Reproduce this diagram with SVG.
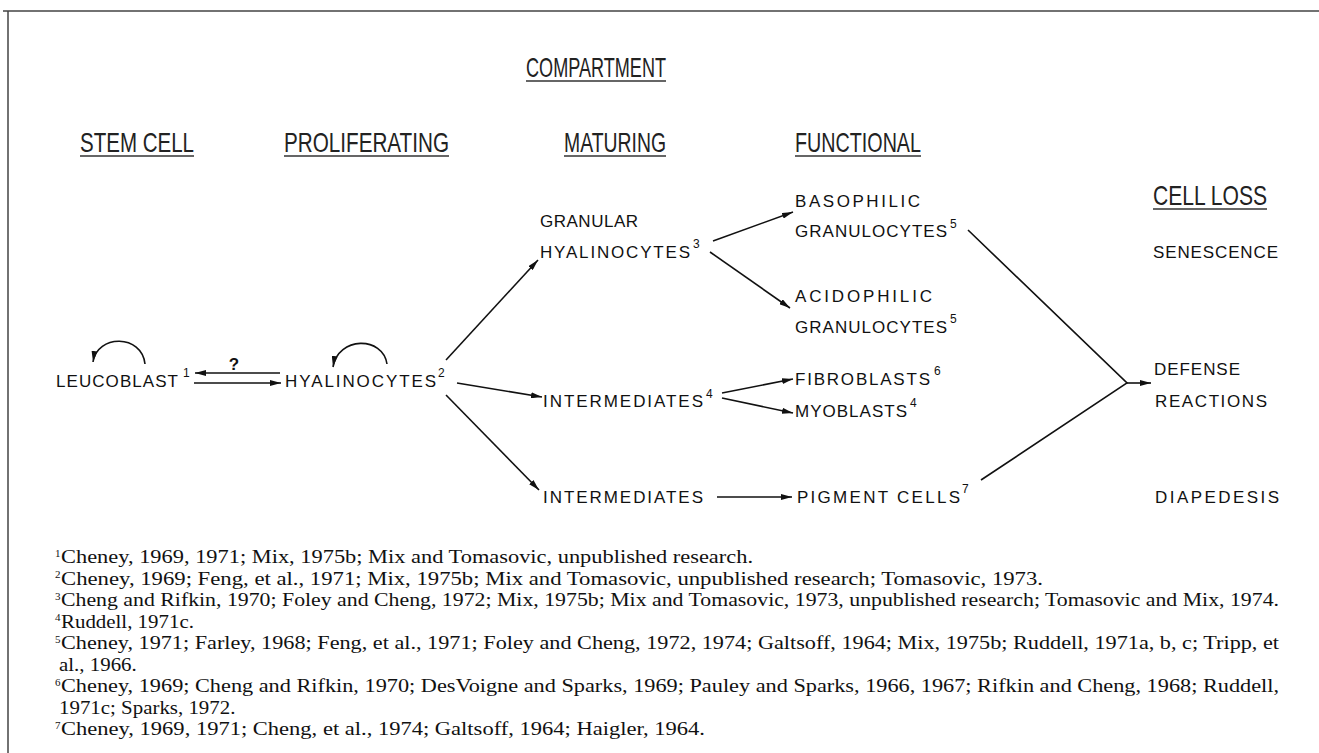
<svg xmlns="http://www.w3.org/2000/svg" width="1319" height="753" viewBox="0 0 1319 753">
<defs>
<marker id="ah" viewBox="0 0 11 6" refX="11" refY="3" markerWidth="11" markerHeight="6" markerUnits="userSpaceOnUse" orient="auto"><path d="M0,0 L11,3 L0,6 z" fill="#111"/></marker>
</defs>
<style>
.hd{font-family:"Liberation Sans",Arial,sans-serif;font-size:28px;fill:#222}
.lb{font-family:"Liberation Sans",Arial,sans-serif;font-size:17px;fill:#111}
.sp{font-family:"Liberation Sans",Arial,sans-serif;font-size:12px;fill:#111}
.fn{font-family:"Liberation Serif","Times New Roman",serif;font-size:19px;fill:#111}
.fs{font-family:"Liberation Serif","Times New Roman",serif;font-size:11px;fill:#111}
.ul{stroke:#333;stroke-width:1.5}
.c{stroke:#111;stroke-width:1.6;fill:none}
.a{marker-end:url(#ah)}
.q{font-family:"Liberation Sans",Arial,sans-serif;font-size:17px;font-weight:bold;fill:#111}
</style>
<g id="frame"><path d="M3,11 H1319 M8,11 V753" stroke="#444" stroke-width="1.5" fill="none"/></g>

<g id="headers">
<g id="h-compartment"><text class="hd" x="526" y="77" textLength="140" lengthAdjust="spacingAndGlyphs">COMPARTMENT</text><line class="ul" x1="526" y1="81" x2="666" y2="81"/></g>
<g id="h-stem"><text class="hd" x="80" y="152" textLength="114" lengthAdjust="spacingAndGlyphs">STEM CELL</text><line class="ul" x1="80" y1="156" x2="194" y2="156"/></g>
<g id="h-prolif"><text class="hd" x="284" y="152" textLength="165" lengthAdjust="spacingAndGlyphs">PROLIFERATING</text><line class="ul" x1="284" y1="156" x2="449" y2="156"/></g>
<g id="h-maturing"><text class="hd" x="564" y="152" textLength="102" lengthAdjust="spacingAndGlyphs">MATURING</text><line class="ul" x1="564" y1="156" x2="666" y2="156"/></g>
<g id="h-functional"><text class="hd" x="795" y="152" textLength="126" lengthAdjust="spacingAndGlyphs">FUNCTIONAL</text><line class="ul" x1="795" y1="156" x2="921" y2="156"/></g>
<g id="h-cellloss"><text class="hd" x="1153" y="205" textLength="114" lengthAdjust="spacingAndGlyphs">CELL LOSS</text><line class="ul" x1="1153" y1="209" x2="1267" y2="209"/></g>
</g>

<g id="connectors">
<path class="c a" d="M145,364 C142,334 97,334 93,362"/>
<path class="c a" d="M387,364 C383,336 338,336 333,367"/>
<line class="c a" x1="280" y1="373" x2="195" y2="373"/>
<line class="c a" x1="194" y1="383" x2="281" y2="383"/>
<line class="c a" x1="446" y1="360" x2="538" y2="260"/>
<line class="c a" x1="457" y1="383" x2="542" y2="397"/>
<line class="c a" x1="446" y1="395" x2="539" y2="490"/>
<line class="c a" x1="713" y1="241" x2="793" y2="212"/>
<line class="c a" x1="710" y1="252" x2="790" y2="308"/>
<line class="c a" x1="722" y1="393" x2="793" y2="379"/>
<line class="c a" x1="722" y1="398" x2="793" y2="413"/>
<line class="c a" x1="717" y1="497" x2="792" y2="497"/>
<path class="c" d="M968,230 L1127,383 L981,480"/>
<line class="c a" x1="1127" y1="383" x2="1151" y2="383"/>
<text class="q" x="234" y="370" text-anchor="middle">?</text>
</g>

<g id="n-leucoblast"><text class="lb" x="56" y="387" textLength="122" lengthAdjust="spacing">LEUCOBLAST</text><text class="sp" x="183" y="377">1</text></g>
<g id="n-hyalinocytes"><text class="lb" x="285" y="387" textLength="151" lengthAdjust="spacing">HYALINOCYTES</text><text class="sp" x="438" y="377">2</text></g>
<g id="n-granular"><text class="lb" x="540" y="227" textLength="98" lengthAdjust="spacing">GRANULAR</text><text class="lb" x="540" y="258" textLength="150" lengthAdjust="spacing">HYALINOCYTES</text><text class="sp" x="693" y="248">3</text></g>
<g id="n-basophilic"><text class="lb" x="795" y="207" textLength="125" lengthAdjust="spacing">BASOPHILIC</text><text class="lb" x="795" y="237" textLength="152" lengthAdjust="spacing">GRANULOCYTES</text><text class="sp" x="950" y="228">5</text></g>
<g id="n-acidophilic"><text class="lb" x="795" y="302" textLength="137" lengthAdjust="spacing">ACIDOPHILIC</text><text class="lb" x="795" y="333" textLength="152" lengthAdjust="spacing">GRANULOCYTES</text><text class="sp" x="950" y="323">5</text></g>
<g id="n-intermediates1"><text class="lb" x="543" y="407" textLength="160" lengthAdjust="spacing">INTERMEDIATES</text><text class="sp" x="706" y="398">4</text></g>
<g id="n-fibroblasts"><text class="lb" x="795" y="385" textLength="135" lengthAdjust="spacing">FIBROBLASTS</text><text class="sp" x="934" y="375">6</text></g>
<g id="n-myoblasts"><text class="lb" x="795" y="417" textLength="112" lengthAdjust="spacing">MYOBLASTS</text><text class="sp" x="910" y="407">4</text></g>
<g id="n-intermediates2"><text class="lb" x="543" y="503" textLength="160" lengthAdjust="spacing">INTERMEDIATES</text></g>
<g id="n-pigment"><text class="lb" x="797" y="503" textLength="163" lengthAdjust="spacing">PIGMENT CELLS</text><text class="sp" x="962" y="493">7</text></g>
<g id="n-senescence"><text class="lb" x="1153" y="258" textLength="125" lengthAdjust="spacing">SENESCENCE</text></g>
<g id="n-defense"><text class="lb" x="1154" y="375" textLength="86" lengthAdjust="spacing">DEFENSE</text><text class="lb" x="1155" y="407" textLength="112" lengthAdjust="spacing">REACTIONS</text></g>
<g id="n-diapedesis"><text class="lb" x="1155" y="503" textLength="124" lengthAdjust="spacing">DIAPEDESIS</text></g>

<g id="footnotes">
<text class="fs" x="55" y="557">1</text><text class="fn" x="61" y="563" textLength="692" lengthAdjust="spacingAndGlyphs">Cheney, 1969, 1971; Mix, 1975b; Mix and Tomasovic, unpublished research.</text>
<text class="fs" x="55" y="578">2</text><text class="fn" x="61" y="584.5" textLength="982" lengthAdjust="spacingAndGlyphs">Cheney, 1969; Feng, et al., 1971; Mix, 1975b; Mix and Tomasovic, unpublished research; Tomasovic, 1973.</text>
<text class="fs" x="55" y="600">3</text><text class="fn" x="61" y="606" textLength="1218" lengthAdjust="spacingAndGlyphs">Cheng and Rifkin, 1970; Foley and Cheng, 1972; Mix, 1975b; Mix and Tomasovic, 1973, unpublished research; Tomasovic and Mix, 1974.</text>
<text class="fs" x="55" y="621">4</text><text class="fn" transform="translate(61,627.5) scale(1.1,1)">Ruddell, 1971c.</text>
<text class="fs" x="55" y="643">5</text><text class="fn" x="61" y="649" textLength="1218" lengthAdjust="spacingAndGlyphs">Cheney, 1971; Farley, 1968; Feng, et al., 1971; Foley and Cheng, 1972, 1974; Galtsoff, 1964; Mix, 1975b; Ruddell, 1971a, b, c; Tripp, et</text>
<text class="fn" transform="translate(59,670.5) scale(1.1,1)">al., 1966.</text>
<text class="fs" x="55" y="686">6</text><text class="fn" x="61" y="692" textLength="1218" lengthAdjust="spacingAndGlyphs">Cheney, 1969; Cheng and Rifkin, 1970; DesVoigne and Sparks, 1969; Pauley and Sparks, 1966, 1967; Rifkin and Cheng, 1968; Ruddell,</text>
<text class="fn" transform="translate(59,713.5) scale(1.1,1)">1971c; Sparks, 1972.</text>
<text class="fs" x="55" y="729">7</text><text class="fn" x="61" y="735" textLength="644" lengthAdjust="spacingAndGlyphs">Cheney, 1969, 1971; Cheng, et al., 1974; Galtsoff, 1964; Haigler, 1964.</text>
</g>
</svg>
